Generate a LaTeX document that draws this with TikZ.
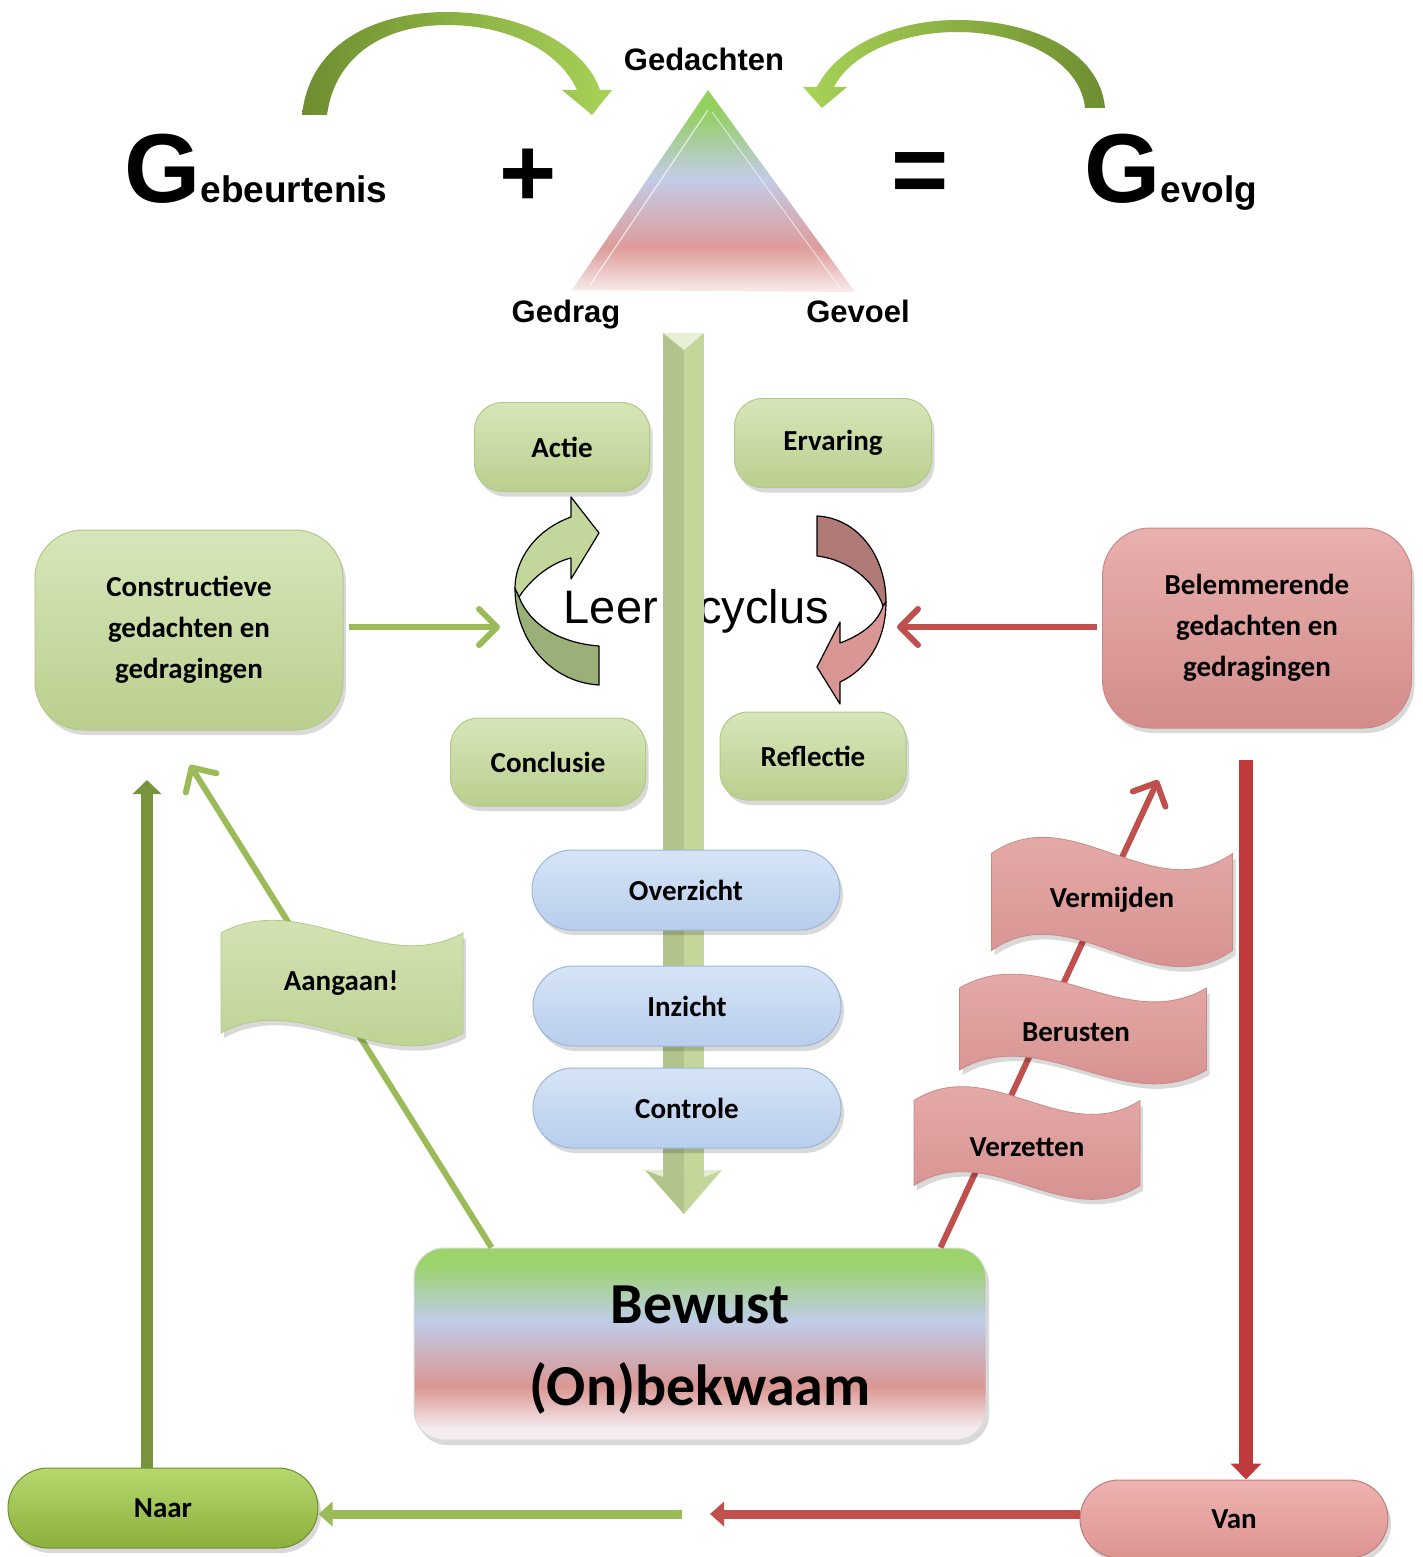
\documentclass[tikz,border=0pt]{standalone}
\usepackage{fontspec}
\setmainfont{Carlito}
\newfontfamily\arialf{Liberation Sans}
\usetikzlibrary{arrows.meta,shapes.misc,shadows,calc}

\definecolor{gtop}{HTML}{D7E6BA}
\definecolor{gbot}{HTML}{BACF8E}
\definecolor{gedge}{HTML}{B3C985}
\definecolor{rtop}{HTML}{E8B0AE}
\definecolor{rbot}{HTML}{D38C8A}
\definecolor{redge}{HTML}{CB8987}
\definecolor{btop}{HTML}{D6E4F6}
\definecolor{bbot}{HTML}{B8CEEC}
\definecolor{bedge}{HTML}{9AB6DE}
\definecolor{naartop}{HTML}{B5D86E}
\definecolor{naarbot}{HTML}{8BB03C}
\definecolor{vantop}{HTML}{EEB3B1}
\definecolor{vanbot}{HTML}{DE9491}
\definecolor{lgreen}{HTML}{9BBB59}
\definecolor{lred}{HTML}{C0504D}
\definecolor{dgreen}{HTML}{77933C}
\definecolor{dred}{HTML}{C0393B}
\definecolor{shaft}{HTML}{C4D79B}
\definecolor{shaftdark}{HTML}{B1C48B}
\definecolor{arcdark}{HTML}{6E8E30}
\definecolor{arclight}{HTML}{A8D257}
\definecolor{cgup}{HTML}{C3D69B}
\definecolor{cglow}{HTML}{9BAF79}
\definecolor{crup}{HTML}{B07A76}
\definecolor{crlow}{HTML}{D99694}
\definecolor{sgreen}{HTML}{9CD36A}
\definecolor{sblue}{HTML}{BFCCE9}
\definecolor{sred}{HTML}{DA9692}
\definecolor{swhite}{HTML}{F4ECEE}
\definecolor{tgreen}{HTML}{93D060}
\definecolor{tblue}{HTML}{C3CBE8}
\definecolor{tred}{HTML}{DD9C9A}
\definecolor{twhite}{HTML}{F8ECEC}

\pgfdeclareverticalshading{bewshade}{100bp}{color(0bp)=(swhite); color(25bp)=(swhite); color(28bp)=(swhite); color(39bp)=(sred); color(56bp)=(sblue); color(71bp)=(sgreen); color(100bp)=(sgreen)}
\pgfdeclareverticalshading{trishade}{100bp}{color(0bp)=(twhite); color(25bp)=(twhite); color(36bp)=(tred); color(53bp)=(tblue); color(70bp)=(tgreen); color(100bp)=(tgreen)}

\newcommand\flagshape[6]{%
 \path[#1] ({#2-#4/2},{#3-#5/2}) .. controls ({#2-#4/6},{#3-#5/2-2*#6}) and ({#2+#4/6},{#3-#5/2+2*#6}) .. ({#2+#4/2},{#3-#5/2})
   -- ({#2+#4/2},{#3+#5/2}) .. controls ({#2+#4/6},{#3+#5/2+2*#6}) and ({#2-#4/6},{#3+#5/2-2*#6}) .. ({#2-#4/2},{#3+#5/2}) -- cycle;}

\tikzset{
 shad/.style={drop shadow={shadow xshift=3pt,shadow yshift=-5pt,opacity=0.15,fill=black}},
 boxtext/.style={font=\fontsize{29}{41}\selectfont\bfseries, text=black, align=center, inner sep=0pt},
 gbox/.style={boxtext, rounded corners=28pt, top color=gtop, bottom color=gbot, draw=gedge, line width=1pt, shad},
 bigg/.style={boxtext, rounded corners=48pt, top color=gtop, bottom color=gbot, draw=gedge, line width=1pt, shad, minimum width=308pt, minimum height=200pt},
 bigr/.style={boxtext, rounded corners=48pt, top color=rtop, bottom color=rbot, draw=redge, line width=1pt, shad, minimum width=309pt, minimum height=200pt},
 bpill/.style={boxtext, rounded rectangle, top color=btop, bottom color=bbot, draw=bedge, line width=1pt, shad, minimum width=308pt, minimum height=80pt},
 flaggreen/.style={top color=gtop, bottom color=gbot, draw=gedge, line width=0.8pt, shad},
 flagred/.style={top color=rtop, bottom color=rbot, draw=redge, line width=0.8pt, shad},
 flagtext/.style={boxtext},
 toplabel/.style={font=\arialf\bfseries\fontsize{31}{31}\selectfont, inner sep=0pt},
 glinearrow/.style={draw=lgreen, line width=6pt, -{Straight Barb[round,length=18pt,width=36pt]}},
 rlinearrow/.style={draw=lred, line width=6pt, -{Straight Barb[round,length=18pt,width=36pt]}},
 thickg/.style={draw=dgreen, line width=12pt, -{Triangle[length=14pt,width=28pt]}},
 thickr/.style={draw=dred, line width=14pt, -{Triangle[length=16pt,width=30pt]}},
 botg/.style={draw=lgreen, line width=9pt, -{Triangle[length=14pt,width=24pt]}},
 botr/.style={draw=lred, line width=9pt, -{Triangle[length=14pt,width=24pt]}},
}

\begin{document}
\begin{tikzpicture}[x=1pt,y=-1pt]
\useasboundingbox (0,0) rectangle (1422,1557);
\fill[white] (0,0) rectangle (1422,1557);

% ---------- top formula ----------
\node[anchor=base west, inner sep=0pt, font=\arialf\bfseries] (gebeurtenis) at (124,203)
  {{\fontsize{98}{98}\selectfont G}{\fontsize{37}{37}\selectfont ebeurtenis}};
\node[anchor=base west, inner sep=0pt, font=\arialf\bfseries] (gevolg) at (1084,203)
  {{\fontsize{98}{98}\selectfont G}{\fontsize{37}{37}\selectfont evolg}};
\node[inner sep=0pt, font=\arialf\bfseries\fontsize{98}{98}\selectfont] (plus) at (528,178) {+};
\node[inner sep=0pt, font=\arialf\bfseries\fontsize{98}{98}\selectfont] (equals) at (920,178) {=};

% curved arrows
\path[left color=arcdark, right color=arclight]
  (302,115) .. controls (310,40) and (380,12) .. (447,12) .. controls (520,12) and (585,45) .. (600,90)
  -- (612,90) -- (592,115) -- (562,90) -- (577,90)
  .. controls (560,52) and (510,25) .. (447,25) .. controls (385,25) and (335,55) .. (327,115) -- cycle;
\path[left color=arclight, right color=arcdark]
  (1105,108) .. controls (1100,50) and (1030,20) .. (957,20) .. controls (890,20) and (835,50) .. (817,87)
  -- (803,87) -- (822,108) -- (847,87) -- (834,87)
  .. controls (850,55) and (900,32) .. (957,32) .. controls (1020,32) and (1080,60) .. (1085,108) -- cycle;

% triangle
\coordinate (tA) at (708,90);
\coordinate (tB) at (572,290);
\coordinate (tC) at (855,292);
\path[shading=trishade] (tA) -- (tC) -- (tB) -- cycle;
\draw[white, line width=1.2pt, opacity=0.7] (708,110) -- (590,285);
\draw[white, line width=1pt, opacity=0.6] (712,112) -- (840,288);
\node[toplabel, anchor=base] (gedachten) at (704,71) {Gedachten};
\node[toplabel, anchor=base] (gedrag) at (566,322) {Gedrag};
\node[toplabel, anchor=base] (gevoel) at (858,322) {Gevoel};

% ---------- learning cycle ----------
\node[anchor=base east, inner sep=0pt, font=\arialf\fontsize{47}{47}\selectfont] (leer) at (658,623) {Leer};
\node[anchor=base west, inner sep=0pt, font=\arialf\fontsize{47}{47}\selectfont] (cyclus) at (698,623) {cyclus};

% green circular arrow
\draw[fill=cglow, line width=1.2pt, line join=round]
  (515,588) .. controls (515,640) and (550,682) .. (599,685) -- (599,646)
  .. controls (560,643) and (530,625) .. (519,597) -- cycle;
\draw[fill=cgup, line width=1.2pt, line join=round]
  (571,517) .. controls (535,530) and (515,560) .. (515,588) -- (519,597)
  .. controls (530,580) and (550,563) .. (571,558) -- (571,579) -- (599,533) -- (571,497) -- cycle;
% red circular arrow
\draw[fill=crup, line width=1.2pt, line join=round]
  (817,516) .. controls (857,518) and (886,555) .. (886,602) -- (883,606)
  .. controls (875,582) and (850,560) .. (817,556) -- cycle;
\draw[fill=crlow, line width=1.2pt, line join=round]
  (886,602) .. controls (886,642) and (866,670) .. (840,682) -- (840,704) -- (817,667) -- (840,622) -- (840,643)
  .. controls (862,635) and (878,622) .. (883,606) -- cycle;

% central vertical arrow
\fill[shaft] (663,333) rectangle (704,1172);
\fill[shaftdark] (663,333) rectangle (684,1172);
\fill[white!60!shaft] (663,333) -- (704,333) -- (684,350) -- cycle;
\fill[shaft] (645,1170) -- (722,1170) -- (684,1214) -- cycle;
\fill[shaftdark] (645,1170) -- (684,1170) -- (684,1214) -- cycle;
\fill[white!55!shaft] (645,1170) -- (663,1170) -- (663,1177) -- cycle;
\fill[white!55!shaft] (722,1170) -- (704,1170) -- (704,1177) -- cycle;

% small green boxes
\node[gbox, minimum width=175pt, minimum height=89pt] (actie) at (562,447) {Actie};
\node[gbox, minimum width=197pt, minimum height=89pt] (ervaring) at (833,443) {Ervaring};
\node[gbox, minimum width=195pt, minimum height=88pt] (conclusie) at (548,762) {Conclusie};
\node[gbox, minimum width=186pt, minimum height=88pt] (reflectie) at (813,756) {Reflectie};

% big side boxes
\node[bigg] (cons) at (189,630) {Constructieve\\gedachten en\\gedragingen};
\node[bigr] (belem) at (1257,628) {Belemmerende\\gedachten en\\gedragingen};

\coordinate (cycL) at (500,627);
\coordinate (cycR) at (897,627);
\draw[glinearrow] (cons.east) ++(5,-3) -- (cycL);
\draw[rlinearrow] (belem.west) ++(-5,-1) -- (cycR);

% blue pills
\node[bpill] (overzicht) at (686,890) {Overzicht};
\node[bpill] (inzicht) at (687,1006) {Inzicht};
\node[bpill] (controle) at (687,1108) {Controle};

% Bewust box
\node[rounded corners=30pt, shading=bewshade, draw=white!85!black, line width=1pt, shad,
      minimum width=572pt, minimum height=192pt, inner sep=0pt] (bewust) at (700,1344) {};
\node[boxtext, font=\fontsize{58}{82}\selectfont\bfseries] (bewustlabel) at ([yshift=-6pt]bewust.center)
      {Bewust\\(On)bekwaam};

% Naar / Van
\node[boxtext, rounded rectangle, top color=naartop, bottom color=naarbot, draw=naarbot!80!black, line width=1pt, shad,
      minimum width=310pt, minimum height=80pt] (naar) at (163,1508) {Naar};
\node[boxtext, rounded rectangle, top color=vantop, bottom color=vanbot, draw=vanbot!85!black, line width=1pt, shad,
      minimum width=308pt, minimum height=78pt] (van) at (1234,1519) {Van};

% diagonal connectors
\coordinate (gtip) at (190,765);
\coordinate (rtip) at (1158,780);
\draw[glinearrow] ([xshift=78pt]bewust.north west) -- (gtip);
\draw[rlinearrow] ([xshift=-46pt]bewust.north east) -- (rtip);

% vertical side connectors
\coordinate (ntip) at (147,780);
\draw[thickg] ([xshift=-16pt]naar.north) -- (ntip);
\coordinate (rtop) at (1246,760);
\draw[thickr] (rtop) -- ([xshift=12pt]van.north);

% bottom arrows
\coordinate (gstart) at (682,1514);
\coordinate (rend) at (710,1514);
\draw[botg] (gstart) -- (gstart -| naar.east);
\draw[botr] (rend -| van.west) -- (rend);

% flags
\flagshape{flaggreen}{342}{983}{242}{100}{22}
\node[flagtext] (aangaan) at (341,983) {Aangaan!};
\flagshape{flagred}{1112}{902}{241}{97}{28}
\node[flagtext] (vermijden) at (1112,900) {Vermijden};
\flagshape{flagred}{1083}{1029}{247}{82}{24}
\node[flagtext] (berusten) at (1076,1032) {Berusten};
\flagshape{flagred}{1027}{1143}{226}{85}{24}
\node[flagtext] (verzetten) at (1027,1147) {Verzetten};

\end{tikzpicture}
\end{document}
